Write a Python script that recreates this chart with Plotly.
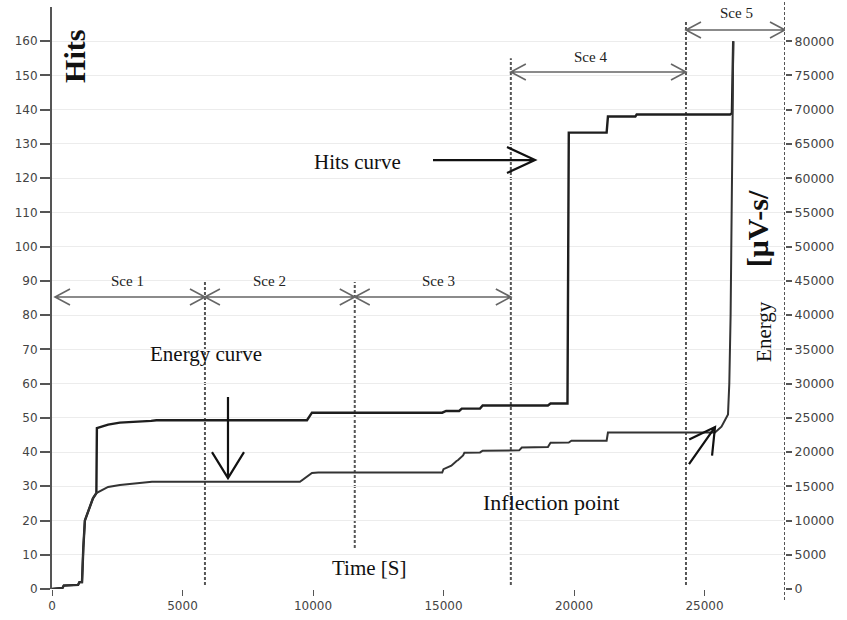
import plotly.graph_objects as go

# ---- data -------------------------------------------------------------
# Cumulative AE hits vs time
hits_time = [0, 400, 450, 1000, 1050, 1150, 1200, 1260, 1450, 1570, 1700,
             1720, 2150, 2600, 3800, 4000, 9770, 9960, 14950, 15100, 15600,
             15700, 16400, 16500, 19000, 19100, 19750, 19800, 21250, 21300,
             22350, 22400, 25980, 26050, 26100]
hits = [0, 0.3, 1, 1.2, 2, 2, 12, 20, 24, 26.5, 28,
        47, 48, 48.6, 49.1, 49.3, 49.3, 51.5, 51.5, 52, 52,
        52.7, 52.7, 53.6, 53.6, 54.2, 54.2, 133.3, 133.3, 138,
        138, 138.6, 138.6, 139, 160]

# Cumulative AE energy vs time
energy_time = [0, 400, 450, 1000, 1050, 1150, 1200, 1260, 1450, 1570, 1700,
               2150, 2600, 3830, 9500, 9770, 9960, 10200, 14950, 15000, 15250,
               15300, 15500, 15550, 15750, 15800, 16400, 16500, 17900, 18000,
               19000, 19100, 19800, 19900, 21250, 21300, 25400, 25650, 25900,
               25950, 26000, 26050, 26080, 26100]
energy = [0, 150, 500, 600, 1000, 1000, 6000, 10000, 12000, 13250, 14000,
          14900, 15200, 15650, 15650, 16350, 16950, 17000, 17000, 17500, 18000,
          18000, 18700, 18800, 19500, 19900, 19950, 20200, 20250, 20650,
          20750, 21350, 21400, 21650, 21650, 22850, 22850, 23700, 25500,
          30000, 40000, 55000, 70000, 80000]

hits_ticks = list(range(0, 170, 10))
energy_ticks = list(range(0, 85000, 5000))
time_ticks = list(range(0, 30000, 5000))

# stage boundaries (s)
stage_bounds = [0, 5860, 11600, 17580, 24290, 28084]
stage_names = ["Sce 1", "Sce 2", "Sce 3", "Sce 4", "Sce 5"]

# ---- geometry helpers -------------------------------------------------
ML, MT, MR, MB = 52, 7, 62, 31
FW, FH = 847, 620
PW, PH = FW - ML - MR, FH - MT - MB
XMAX, YMAX = stage_bounds[-1], 170


def to_px(x, y):
    return ML + x / XMAX * PW, MT + (1 - y / YMAX) * PH


def to_data(px, py):
    return (px - ML) / PW * XMAX, (1 - (py - MT) / PH) * YMAX


def arrow_path(x0, y0, x1, y1, head_len, head_w, double=False):
    """Line from (x0,y0) to (x1,y1) with open V head(s), in data coords."""
    p0 = to_px(x0, y0)
    p1 = to_px(x1, y1)

    def head(tip, tail):
        dx, dy = tip[0] - tail[0], tip[1] - tail[1]
        n = (dx * dx + dy * dy) ** 0.5
        ux, uy = dx / n, dy / n
        bx, by = tip[0] - ux * head_len, tip[1] - uy * head_len
        w1 = to_data(bx - uy * head_w, by + ux * head_w)
        w2 = to_data(bx + uy * head_w, by - ux * head_w)
        t = to_data(*tip)
        return f" M {w1[0]},{w1[1]} L {t[0]},{t[1]} L {w2[0]},{w2[1]}"

    path = f"M {x0},{y0} L {x1},{y1}" + head(p1, p0)
    if double:
        path += head(p0, p1)
    return path


# ---- figure -----------------------------------------------------------
fig = go.Figure()

fig.add_trace(go.Scatter(x=hits_time, y=hits, mode="lines",
                         line=dict(color="#1e1e1e", width=2.4),
                         showlegend=False, yaxis="y"))
fig.add_trace(go.Scatter(x=energy_time, y=energy, mode="lines",
                         line=dict(color="#333333", width=2),
                         showlegend=False, yaxis="y2"))

shapes = []
dash_style = dict(color="#555555", width=2, dash="3px,2px")

# stage boundary lines (x, y bottom, y top in hits units)
bound_lines = [(stage_bounds[1], 1.2, 89.7), (stage_bounds[2], 12, 89.7),
               (stage_bounds[3], 1.2, 155), (stage_bounds[4], 1.2, 165.6)]
for xb, yb0, yb1 in bound_lines:
    shapes.append(dict(type="line", xref="x", yref="y", x0=xb, x1=xb,
                       y0=yb0, y1=yb1, line=dash_style, layer="below"))
# right axis drawn as a dashed line
shapes.append(dict(type="line", xref="x", yref="paper", x0=XMAX, x1=XMAX,
                   y0=-0.019, y1=1.012, line=dash_style))

# stage span arrows
stage_y = [85.3, 85.3, 85.3, 151, 163.3]
label_y = [90, 90, 90, 155.5, 168.2]
for i, name in enumerate(stage_names):
    xa, xb = stage_bounds[i], stage_bounds[i + 1]
    if i == 0:
        xa = to_data(55, 0)[0]
    shapes.append(dict(type="path", xref="x", yref="y",
                       path=arrow_path(xa, stage_y[i], xb, stage_y[i], 15, 8,
                                       double=True),
                       line=dict(color="#666666", width=1.6)))

# pointer arrows
shapes.append(dict(type="path", xref="x", yref="y",
                   path=arrow_path(14598, 125.3, 18506, 125.3, 28, 13),
                   line=dict(color="#111111", width=2.2)))
shapes.append(dict(type="path", xref="x", yref="y",
                   path=arrow_path(6743, 56.1, 6743, 32.4, 26, 16),
                   line=dict(color="#111111", width=2.2)))
shapes.append(dict(type="path", xref="x", yref="y",
                   path=arrow_path(24406, 36.5, 25402, 47.3, 25, 14),
                   line=dict(color="#111111", width=2.2)))

serif = "Liberation Serif"
annotations = []
for i, name in enumerate(stage_names):
    xc = [2874, 8314, 14789, 20613, 26207][i]
    annotations.append(dict(x=xc, y=label_y[i], xref="x", yref="y",
                            text=name, showarrow=False,
                            font=dict(family=serif, size=15, color="#222")))

texts = [
    (11686, 124.7, "Hits curve", 21, 0, False),
    (5900, 68.6, "Energy curve", 21, 0, False),
    (12146, 6.1, "Time [S]", 21, 0, False),
    (19119, 25.4, "Inflection point", 22, 0, False),
    (881, 155.7, "Hits", 30, -90, True),
    (27011, 105.4, "[μV-s/", 30, -90, True),
    (27280, 75.1, "Energy", 21, -90, False),
]
for xt, yt, t, sz, ang, bold in texts:
    annotations.append(dict(x=xt, y=yt, xref="x", yref="y",
                            text=f"<b>{t}</b>" if bold else t,
                            showarrow=False, textangle=ang,
                            font=dict(family=serif, size=sz, color="#111")))

tick_font = dict(family="DejaVu Sans", size=12, color="#444444")

fig.update_layout(
    width=FW, height=FH,
    margin=dict(l=ML, r=MR, t=MT, b=MB, autoexpand=False),
    paper_bgcolor="white", plot_bgcolor="white",
    showlegend=False,
    xaxis=dict(range=[0, XMAX], tickvals=time_ticks, tickformat="d",
               showgrid=False, zeroline=False, showline=False,
               ticks="outside", ticklen=6, tickwidth=1,
               tickcolor="#555555", tickfont=tick_font),
    yaxis=dict(range=[0, YMAX], tickvals=hits_ticks, tickformat="d",
               showgrid=True, gridcolor="#ececec", gridwidth=1,
               zeroline=False, showline=True, linecolor="#555555",
               linewidth=2, ticks="outside", ticklen=10, tickwidth=2,
               tickcolor="#555555", tickfont=tick_font),
    yaxis2=dict(range=[0, YMAX * 500], tickvals=energy_ticks,
                tickformat="d", overlaying="y", side="right",
                showgrid=False, zeroline=False, showline=False,
                ticks="outside", ticklen=6, tickwidth=1.5,
                tickcolor="#555555",
                tickfont=dict(family="DejaVu Sans", size=12.5,
                              color="#444444")),
    shapes=shapes,
    annotations=annotations,
)

fig.write_html("out.html")
